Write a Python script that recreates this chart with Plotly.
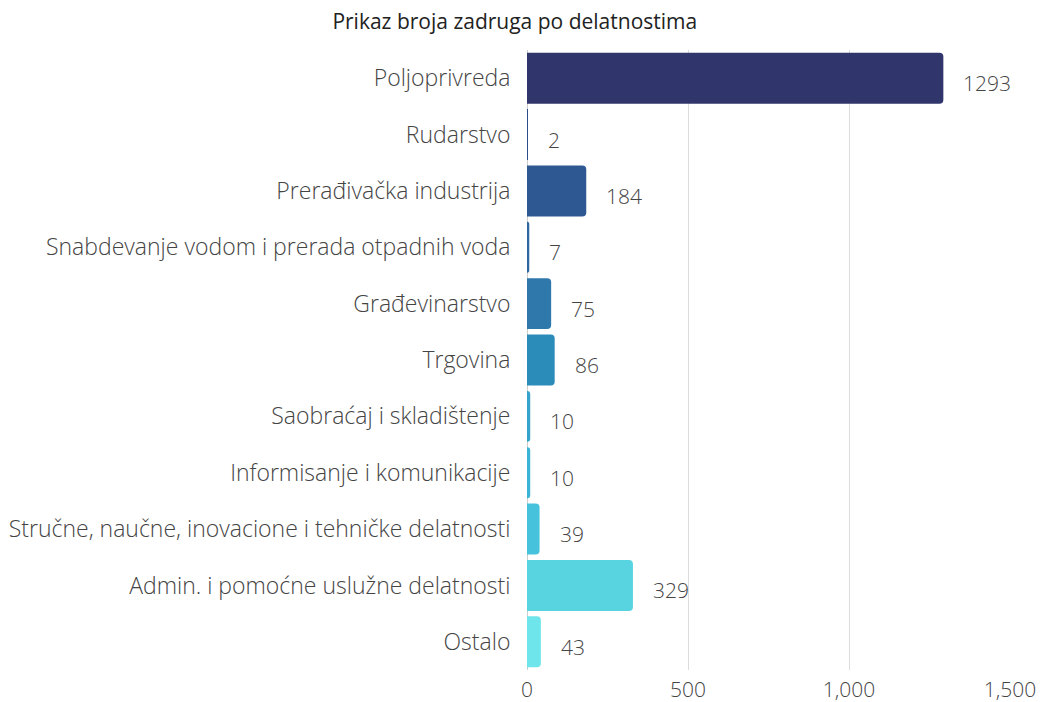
import plotly.graph_objects as go

categories = [
    "Poljoprivreda",
    "Rudarstvo",
    "Prerađivačka industrija",
    "Snabdevanje vodom i prerada otpadnih voda",
    "Građevinarstvo",
    "Trgovina",
    "Saobraćaj i skladištenje",
    "Informisanje i komunikacije",
    "Stručne, naučne, inovacione i tehničke delatnosti",
    "Admin. i pomoćne uslužne delatnosti",
    "Ostalo",
]
values = [1293, 2, 184, 7, 75, 86, 10, 10, 39, 329, 43]
colors = ["#30366c", "#2d4a8a", "#2e5891", "#2f68a0", "#2e78ac", "#2b8bb9",
          "#36a3cd", "#3bb3d6", "#47c2dc", "#58d4e1", "#6ee5ea"]
x_ticks = [0, 500, 1000, 1500]
x_ticktext = ["0", "500", "1,000", "1,500"]

FONT = "Open Sans"

fig = go.Figure()
fig.add_trace(go.Bar(
    y=categories, x=values, orientation="h",
    marker=dict(color=colors, line=dict(width=0)),
    hoverinfo="x+y",
))

for c, v in zip(categories, values):
    fig.add_annotation(x=v, y=c, text=str(v), showarrow=False,
                       xanchor="left", xshift=18, yshift=-5,
                       font=dict(family=FONT, size=21, color="#444", weight=300))

fig.update_layout(
    width=1040, height=702,
    margin=dict(l=527, r=30, t=50, b=32),
    paper_bgcolor="white", plot_bgcolor="white",
    title=dict(text="Prikaz broja zadruga po delatnostima", x=0.495, xanchor="center",
               y=1 - 22 / 702, yanchor="middle",
               font=dict(family=FONT, size=21, color="#222")),
    font=dict(family=FONT, color="#444"),
    bargap=0.096,
    barcornerradius=4,
    showlegend=False,
    xaxis=dict(range=[0, 1500], tickvals=x_ticks, ticktext=x_ticktext,
               showgrid=True, gridcolor="#dcdcdc", gridwidth=1,
               zeroline=True, zerolinecolor="#cccccc", zerolinewidth=1,
               ticks="outside", ticklen=1, tickcolor="white",
               tickfont=dict(family=FONT, size=21, color="#444", weight=300),
               showline=False, fixedrange=True, automargin=False),
    yaxis=dict(autorange="reversed", showgrid=False, showline=False,
               ticks="outside", ticklen=11, tickcolor="white",
               automargin=False,
               tickfont=dict(family=FONT, size=23, color="#444", weight=300)),
)

# remove the default 8px page margin so the 1040x702 figure fills the window exactly
fig.write_html("out.html", config={"displayModeBar": False},
               post_script="document.body.style.margin='0';document.body.style.overflow='hidden';")
